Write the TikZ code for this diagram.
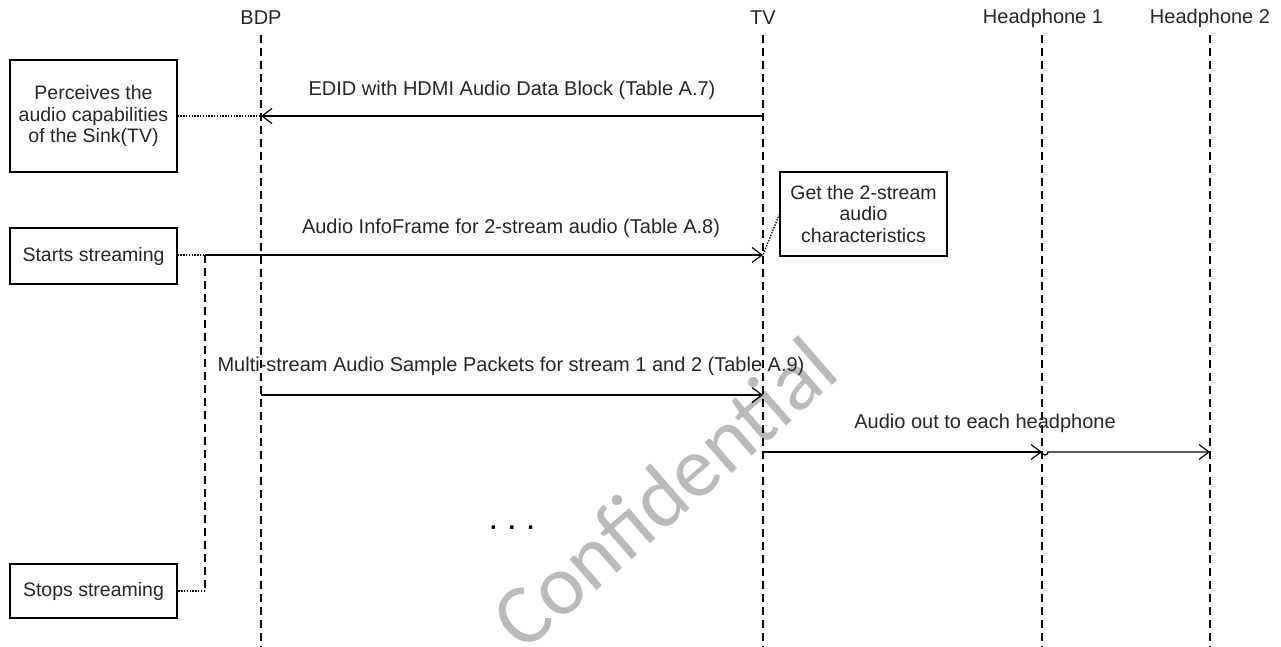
\documentclass[tikz,border=0pt]{standalone}
\usepackage{fontspec}
\setmainfont{Liberation Sans}
\newfontfamily\wmfont{Carlito}
\usetikzlibrary{arrows.meta}
\begin{document}
\begin{tikzpicture}[x=1pt,y=-1pt,
  lbl/.style={font=\fontsize{20}{21.5}\selectfont, inner sep=0pt, text=black!85},
  lifeline/.style={line width=1.6pt, dash pattern=on 8pt off 5pt},
  box/.style={draw, line width=1.2pt, minimum width=167pt, align=center,
    font=\fontsize{19.5}{21.5}\selectfont, text=black!85, inner sep=0pt},
  msg/.style={line width=1.2pt, -{Straight Barb[length=10pt,width=15pt,line width=1.2pt]}},
  note/.style={line width=1.2pt, dash pattern=on 1.4pt off 1.4pt}
]
\useasboundingbox (0,0) rectangle (1281,647);

% watermark
\node[rotate=41, text=black!27, font=\wmfont\fontsize{86}{86}\selectfont, inner sep=0pt] (wm) at (664,493) {Confidential};

% lifeline headers
\node[lbl] (bdp) at (261,18) {BDP};
\node[lbl] (tv) at (763,18) {TV};
\node[lbl] (hp1) at (1043,18) {Headphone 1};
\node[lbl] (hp2) at (1210,18) {Headphone 2};

% lifeline ends
\coordinate (bdpT) at (261,35); \coordinate (bdpB) at (261,647);
\coordinate (tvT) at (763,35); \coordinate (tvB) at (763,647);
\coordinate (hp1T) at (1042,35); \coordinate (hp1B) at (1042,647);
\coordinate (hp2T) at (1210,35); \coordinate (hp2B) at (1210,647);
\draw[lifeline] (bdpT) -- (bdpB);
\draw[lifeline] (tvT) -- (tvB);
\draw[lifeline] (hp1T) -- (hp1B);
\draw[lifeline] (hp2T) -- (hp2B);

% message points
\coordinate (bdp1) at (261,116); \coordinate (tv1) at (763,116);
\coordinate (tv2) at (763,255); \coordinate (st2) at (205,255);
\coordinate (st3) at (205,591);
\coordinate (bdp3) at (261,395); \coordinate (tv3) at (763,395);
\coordinate (tv4) at (763,452); \coordinate (hp14) at (1042,452); \coordinate (hp24) at (1210,452);

% boxes
\node[box, minimum height=112pt] (perc) at (93.5,116) {Perceives the\\audio capabilities\\of the Sink(TV)};
\node[box, minimum height=56pt] (start) at (93.5,256) {Starts streaming};
\node[box, minimum height=54pt] (stop) at (93.5,591) {Stops streaming};
\node[box, minimum height=84pt] (get) at (863.5,214) {Get the 2-stream\\audio\\characteristics};

% messages
\draw[msg] (tv1) -- (bdp1);
\node[lbl] (m1) at (512,90) {EDID with HDMI Audio Data Block (Table A.7)};
\draw[msg] (st2) -- (tv2);
\node[lbl] (m2) at (511,228) {Audio InfoFrame for 2-stream audio (Table A.8)};
\draw[msg] (bdp3) -- (tv3);
\node[lbl] (m3) at (511,366) {Multi-stream Audio Sample Packets for stream 1 and 2 (Table A.9)};
\draw[msg] (tv4) -- (hp14);
\draw[msg] (hp14) arc[start angle=180, end angle=360, radius=3pt] -- (hp24);
\node[lbl] (m4) at (985,423) {Audio out to each headphone};

% notes
\draw[note] (perc.east) -- (bdp1);
\draw[note] (start.east |- st2) -- (st2);
\draw[lifeline] (st2) -- (st3);
\draw[note] (st3) -- (stop.east |- st3);
\draw[note] (get.west) -- (tv2);

% ellipsis
\node[font=\bfseries\fontsize{24}{24}\selectfont, inner sep=0pt] (dots) at (512,528) {.\hspace{12pt}.\hspace{12pt}.};
\end{tikzpicture}
\end{document}
